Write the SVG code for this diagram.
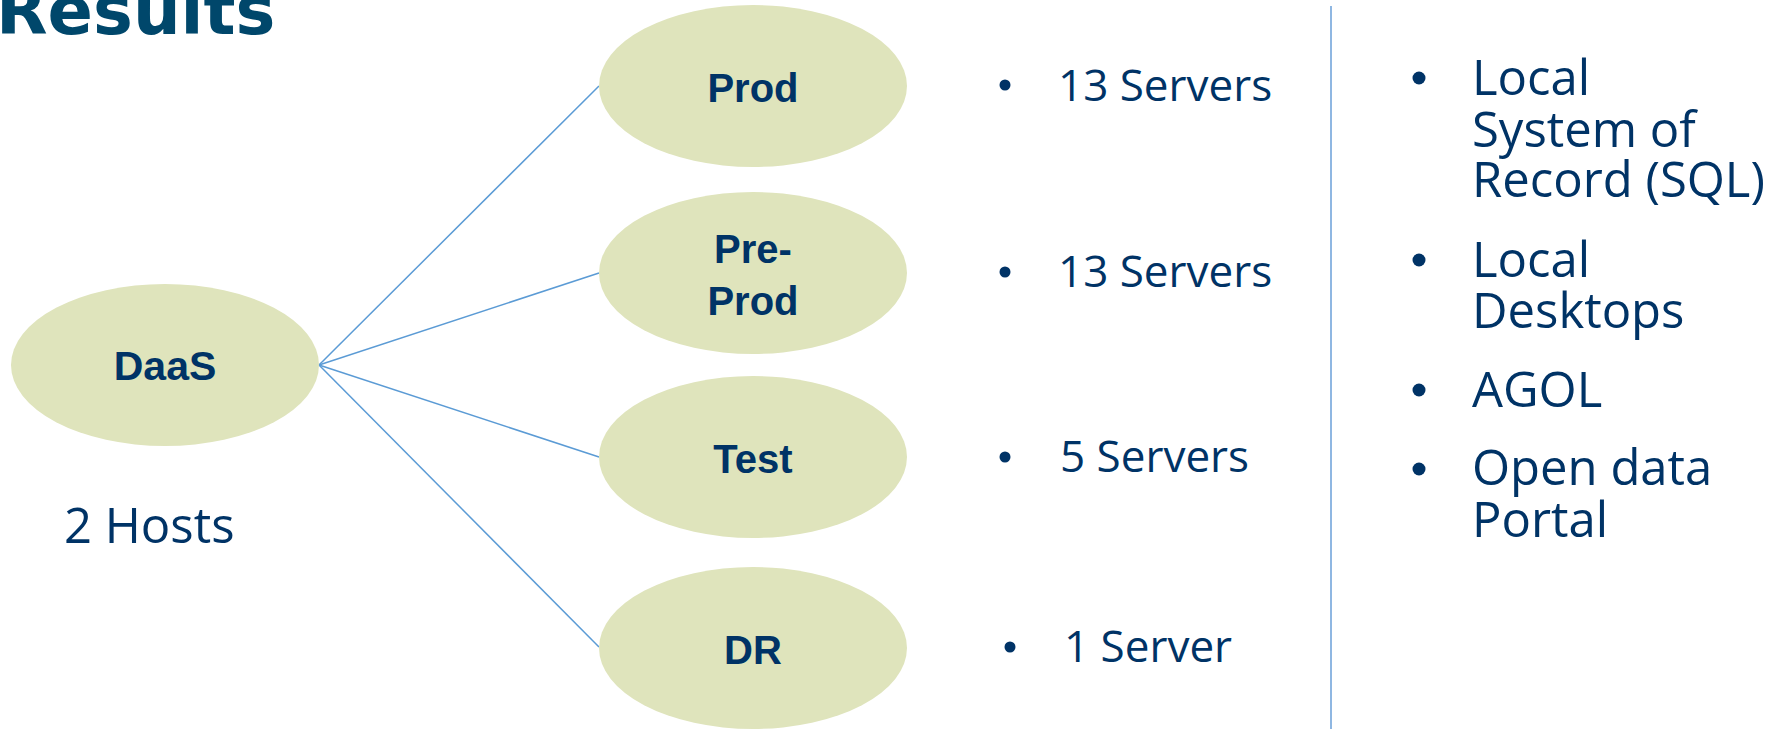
<svg xmlns="http://www.w3.org/2000/svg" width="1783" height="729" viewBox="0 0 1783 729">
  <style>
    .node { fill: #DFE4BC; }
    .label { font-family: "Liberation Sans", Arial, sans-serif; font-weight: bold; font-size: 40px; fill: #003366; text-anchor: middle; }
    .body { font-family: "Open Sans", "Noto Sans", sans-serif; fill: #003366; }
    .title { font-family: "DejaVu Sans", sans-serif; font-weight: bold; font-size: 67px; fill: #00476B; }
    .link { stroke: #5B9BD5; stroke-width: 1.5; fill: none; }
    .dot { fill: #003366; }
  </style>

  <rect width="1783" height="729" fill="#FFFFFF"/>

  <!-- heading, partly above the top edge -->
  <text class="title" x="-4" y="34">Results</text>

  <!-- connectors fanning out from DaaS -->
  <g id="connectors">
    <line class="link" x1="319" y1="365" x2="599" y2="86"/>
    <line class="link" x1="319" y1="365" x2="599" y2="273"/>
    <line class="link" x1="319" y1="365" x2="599" y2="457"/>
    <line class="link" x1="319" y1="365" x2="599" y2="647"/>
  </g>

  <g id="daas">
    <ellipse class="node" cx="165" cy="365" rx="154" ry="81"/>
    <text class="label" x="165" y="380" style="font-size:41px">DaaS</text>
  </g>

  <g id="prod">
    <ellipse class="node" cx="753" cy="86" rx="154" ry="81"/>
    <text class="label" x="753" y="102">Prod</text>
  </g>

  <g id="preprod">
    <ellipse class="node" cx="753" cy="273" rx="154" ry="81"/>
    <text class="label" x="753" y="263">Pre-</text>
    <text class="label" x="753" y="315">Prod</text>
  </g>

  <g id="test">
    <ellipse class="node" cx="753" cy="457" rx="154" ry="81"/>
    <text class="label" x="753" y="473">Test</text>
  </g>

  <g id="dr">
    <ellipse class="node" cx="753" cy="648" rx="154" ry="81"/>
    <text class="label" x="753" y="664">DR</text>
  </g>

  <!-- host count -->
  <text class="body" x="64" y="543" style="font-size:49px">2 Hosts</text>

  <!-- server counts per environment -->
  <g id="servers" class="body" style="font-size:44px">
    <circle class="dot" cx="1005" cy="85" r="5.5"/>
    <text x="1058" y="101">13 Servers</text>
    <circle class="dot" cx="1005" cy="272" r="5.5"/>
    <text x="1058" y="287">13 Servers</text>
    <circle class="dot" cx="1005" cy="457" r="5.5"/>
    <text x="1060" y="472">5 Servers</text>
    <circle class="dot" cx="1010" cy="647" r="5.5"/>
    <text x="1064" y="662">1 Server</text>
  </g>

  <!-- divider -->
  <line x1="1331" y1="6" x2="1331" y2="729" stroke="#6A9FD8" stroke-width="1.5"/>

  <!-- data destinations -->
  <g id="destinations" class="body" style="font-size:49px">
    <circle class="dot" cx="1419" cy="78" r="6.5"/>
    <text x="1472" y="95">Local</text>
    <text x="1472" y="147">System of</text>
    <text x="1472" y="197">Record (SQL)</text>
    <circle class="dot" cx="1419" cy="260" r="6.5"/>
    <text x="1472" y="277">Local</text>
    <text x="1472" y="328">Desktops</text>
    <circle class="dot" cx="1419" cy="390" r="6.5"/>
    <text x="1472" y="407">AGOL</text>
    <circle class="dot" cx="1419" cy="469" r="6.5"/>
    <text x="1472" y="485">Open data</text>
    <text x="1472" y="537">Portal</text>
  </g>
</svg>
